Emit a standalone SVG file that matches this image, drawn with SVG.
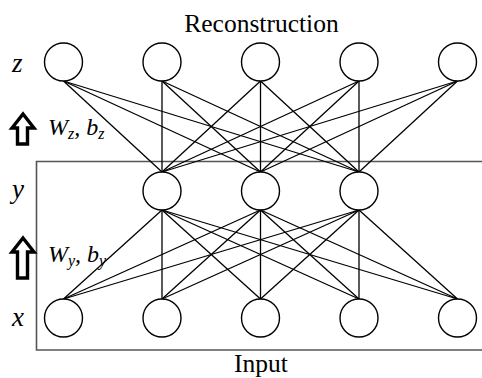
<svg xmlns="http://www.w3.org/2000/svg" width="482" height="378" viewBox="0 0 482 378">
<style>
.node{fill:#fff;stroke:#000;stroke-width:1.4}
.edge{stroke:#000;stroke-width:1.3;fill:none}
.t{font-family:"Liberation Serif","Times New Roman",serif;fill:#000}
.it{font-style:italic}
.arrow{fill:#fff;stroke:#000;stroke-width:3.4;stroke-linejoin:miter}
</style>
<rect width="482" height="378" fill="#fff"/>
<path d="M490,161.5 H36.5 V350 H490" fill="none" stroke="#555" stroke-width="1.6"/>
<g id="connectors">
<g class="edge">
<line x1="63.5" y1="81" x2="162" y2="172"/><line x1="63.5" y1="81" x2="260.5" y2="172"/><line x1="63.5" y1="81" x2="359" y2="172"/>
<line x1="162" y1="81" x2="162" y2="172"/><line x1="162" y1="81" x2="260.5" y2="172"/><line x1="162" y1="81" x2="359" y2="172"/>
<line x1="260.5" y1="81" x2="162" y2="172"/><line x1="260.5" y1="81" x2="260.5" y2="172"/><line x1="260.5" y1="81" x2="359" y2="172"/>
<line x1="359" y1="81" x2="162" y2="172"/><line x1="359" y1="81" x2="260.5" y2="172"/><line x1="359" y1="81" x2="359" y2="172"/>
<line x1="457.5" y1="81" x2="162" y2="172"/><line x1="457.5" y1="81" x2="260.5" y2="172"/><line x1="457.5" y1="81" x2="359" y2="172"/>
<line x1="162" y1="210" x2="63.5" y2="299"/><line x1="162" y1="210" x2="162" y2="299"/><line x1="162" y1="210" x2="260.5" y2="299"/><line x1="162" y1="210" x2="359" y2="299"/><line x1="162" y1="210" x2="457.5" y2="299"/>
<line x1="260.5" y1="210" x2="63.5" y2="299"/><line x1="260.5" y1="210" x2="162" y2="299"/><line x1="260.5" y1="210" x2="260.5" y2="299"/><line x1="260.5" y1="210" x2="359" y2="299"/><line x1="260.5" y1="210" x2="457.5" y2="299"/>
<line x1="359" y1="210" x2="63.5" y2="299"/><line x1="359" y1="210" x2="162" y2="299"/><line x1="359" y1="210" x2="260.5" y2="299"/><line x1="359" y1="210" x2="359" y2="299"/><line x1="359" y1="210" x2="457.5" y2="299"/>
</g>
</g>
<g id="z1"><circle class="node" cx="63.5" cy="62" r="19"/></g>
<g id="z2"><circle class="node" cx="162" cy="62" r="19"/></g>
<g id="z3"><circle class="node" cx="260.5" cy="62" r="19"/></g>
<g id="z4"><circle class="node" cx="359" cy="62" r="19"/></g>
<g id="z5"><circle class="node" cx="457.5" cy="62" r="19"/></g>
<g id="y1"><circle class="node" cx="162" cy="191" r="19"/></g>
<g id="y2"><circle class="node" cx="260.5" cy="191" r="19"/></g>
<g id="y3"><circle class="node" cx="359" cy="191" r="19"/></g>
<g id="x1"><circle class="node" cx="63.5" cy="318" r="19"/></g>
<g id="x2"><circle class="node" cx="162" cy="318" r="19"/></g>
<g id="x3"><circle class="node" cx="260.5" cy="318" r="19"/></g>
<g id="x4"><circle class="node" cx="359" cy="318" r="19"/></g>
<g id="x5"><circle class="node" cx="457.5" cy="318" r="19"/></g>
<g id="labels">
<text class="t" x="261.5" y="32" font-size="25.5" text-anchor="middle">Reconstruction</text>
<text class="t" x="261" y="372" font-size="25.5" text-anchor="middle">Input</text>
<text class="t it" x="12" y="72" font-size="27">z</text>
<text class="t it" x="12" y="198" font-size="27">y</text>
<text class="t it" x="12" y="326" font-size="27">x</text>
<text class="t it" x="48" y="135" font-size="24">W<tspan font-size="16" dy="4">z</tspan><tspan dy="-4">, b</tspan><tspan font-size="16" dy="4">z</tspan></text>
<text class="t it" x="48" y="262" font-size="24">W<tspan font-size="16" dy="4">y</tspan><tspan dy="-4">, b</tspan><tspan font-size="16" dy="4">y</tspan></text>
</g>
<g id="arrow-z"><path class="arrow" d="M23,114 L34,128 L27.5,128 L27.5,144 L17.5,144 L17.5,128 L12,128 Z"/></g>
<g id="arrow-y"><path class="arrow" d="M23,238 L34,252 L27.5,252 L27.5,278 L17.5,278 L17.5,252 L12,252 Z"/></g>
</svg>
